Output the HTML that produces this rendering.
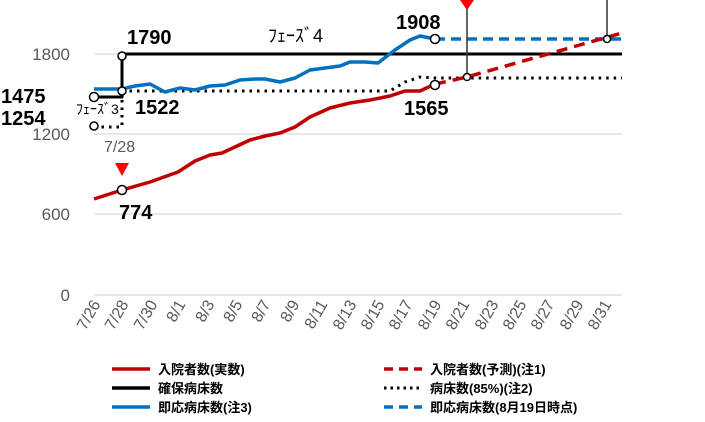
<!DOCTYPE html><html><head><meta charset="utf-8"><style>body{margin:0;background:#fff}svg{display:block}text{font-family:"Liberation Sans","Noto Sans CJK JP",sans-serif}</style></head><body>
<svg width="705" height="422" viewBox="0 0 705 422">
<g stroke="#d9d9d9" stroke-width="1.3">
<line x1="94" y1="54" x2="622" y2="54"/><line x1="94" y1="134" x2="622" y2="134"/><line x1="94" y1="214" x2="622" y2="214"/><line x1="94" y1="295" x2="622" y2="295"/>
</g>
<g fill="#595959" font-size="17" text-anchor="end">
<text x="70" y="60">1800</text><text x="70" y="140">1200</text><text x="70" y="220">600</text><text x="70" y="301">0</text>
</g>
<g fill="#595959" font-size="16" text-anchor="end">
<text transform="translate(101,304) rotate(-60)">7/26</text>
<text transform="translate(129,304) rotate(-60)">7/28</text>
<text transform="translate(158,304) rotate(-60)">7/30</text>
<text transform="translate(186,304) rotate(-60)">8/1</text>
<text transform="translate(215,304) rotate(-60)">8/3</text>
<text transform="translate(243,304) rotate(-60)">8/5</text>
<text transform="translate(271,304) rotate(-60)">8/7</text>
<text transform="translate(300,304) rotate(-60)">8/9</text>
<text transform="translate(328,304) rotate(-60)">8/11</text>
<text transform="translate(357,304) rotate(-60)">8/13</text>
<text transform="translate(385,304) rotate(-60)">8/15</text>
<text transform="translate(413,304) rotate(-60)">8/17</text>
<text transform="translate(442,304) rotate(-60)">8/19</text>
<text transform="translate(470,304) rotate(-60)">8/21</text>
<text transform="translate(499,304) rotate(-60)">8/23</text>
<text transform="translate(527,304) rotate(-60)">8/25</text>
<text transform="translate(555,304) rotate(-60)">8/27</text>
<text transform="translate(584,304) rotate(-60)">8/29</text>
<text transform="translate(612,304) rotate(-60)">8/31</text>
</g>
<g fill="none" stroke-linejoin="round">
<polyline stroke="#000" stroke-width="3" stroke-dasharray="2.5 5" points="94,127 122,127 122,97"/>
<polyline stroke="#000" stroke-width="3" stroke-dasharray="2.5 5" points="122,91 390,91 405,82 420,77 435,78 622,78"/>
<polyline stroke="#000" stroke-width="3" points="94,97 122,97 122,54 622,54"/>
<polyline stroke="#0070c0" stroke-width="3.5" points="94,89 122,89 135,86 150,84 165,92 180,88 195,90 210,86 225,85 240,80 255,79 265,79 280,82 295,78 310,70 325,68 340,66 350,62 365,62 378,63 395,50 410,40 420,36 435,39"/>
<polyline stroke="#0070c0" stroke-width="3.5" stroke-dasharray="10 6" points="435,39 622,39"/>
<polyline stroke="#c00000" stroke-width="3.5" points="94,199 122,190 150,182 178,172 195,161 210,155 222,153 250,140 265,136 280,133 295,127 310,117 330,108 350,103 370,100 390,96 405,91 420,91 435,84"/>
<polyline stroke="#c00000" stroke-width="3.5" stroke-dasharray="11 7" points="435,84 467,77 622,33"/>
<line x1="467" y1="0" x2="467" y2="77" stroke="#333" stroke-width="1.5"/>
<line x1="607" y1="0" x2="607" y2="39" stroke="#333" stroke-width="1.5"/>
</g>
<g fill="#fff" stroke="#000" stroke-width="1.5">
<circle cx="122" cy="56" r="4"/><circle cx="122" cy="91" r="4"/><circle cx="94" cy="97" r="4.5"/><circle cx="94" cy="126" r="4"/><circle cx="122" cy="190" r="4.5"/><circle cx="435" cy="39" r="4.5"/><circle cx="435" cy="85" r="4.5"/><circle cx="467" cy="77" r="3.5"/><circle cx="607" cy="39" r="3.5"/>
</g>
<polygon points="115,163 129,163 122,176" fill="#f00"/>
<polygon points="460,0 474,0 467,10" fill="#f00"/>
<g font-weight="bold" font-size="20" fill="#000">
<text x="127" y="44">1790</text><text x="135" y="114">1522</text><text x="1" y="103">1475</text><text x="1" y="125">1254</text><text x="119" y="219">774</text><text x="396" y="29">1908</text><text x="404" y="115">1565</text>
</g>
<text x="268" y="42" font-size="18" fill="#000">ﾌｪｰｽﾞ4</text>
<text x="76" y="114" font-size="14" fill="#000">ﾌｪｰｽﾞ3</text>
<text x="104" y="152" font-size="16" fill="#595959">7/28</text>
<g font-size="13" fill="#000" font-weight="bold">
<line x1="112" y1="369" x2="150" y2="369" stroke="#c00000" stroke-width="3.5"/><text x="158" y="374">入院者数(実数)</text>
<line x1="112" y1="388" x2="150" y2="388" stroke="#000" stroke-width="3.5"/><text x="158" y="393">確保病床数</text>
<line x1="112" y1="407" x2="150" y2="407" stroke="#0070c0" stroke-width="3.5"/><text x="158" y="412">即応病床数(注3)</text>
<line x1="384" y1="369" x2="422" y2="369" stroke="#c00000" stroke-width="3.5" stroke-dasharray="9 6"/><text x="430" y="374">入院者数(予測)(注1)</text>
<line x1="384" y1="388" x2="422" y2="388" stroke="#000" stroke-width="3" stroke-dasharray="2.5 4"/><text x="430" y="393">病床数(85%)(注2)</text>
<line x1="384" y1="407" x2="422" y2="407" stroke="#0070c0" stroke-width="3.5" stroke-dasharray="9 6"/><text x="430" y="412">即応病床数(8月19日時点)</text>
</g>
</svg></body></html>
